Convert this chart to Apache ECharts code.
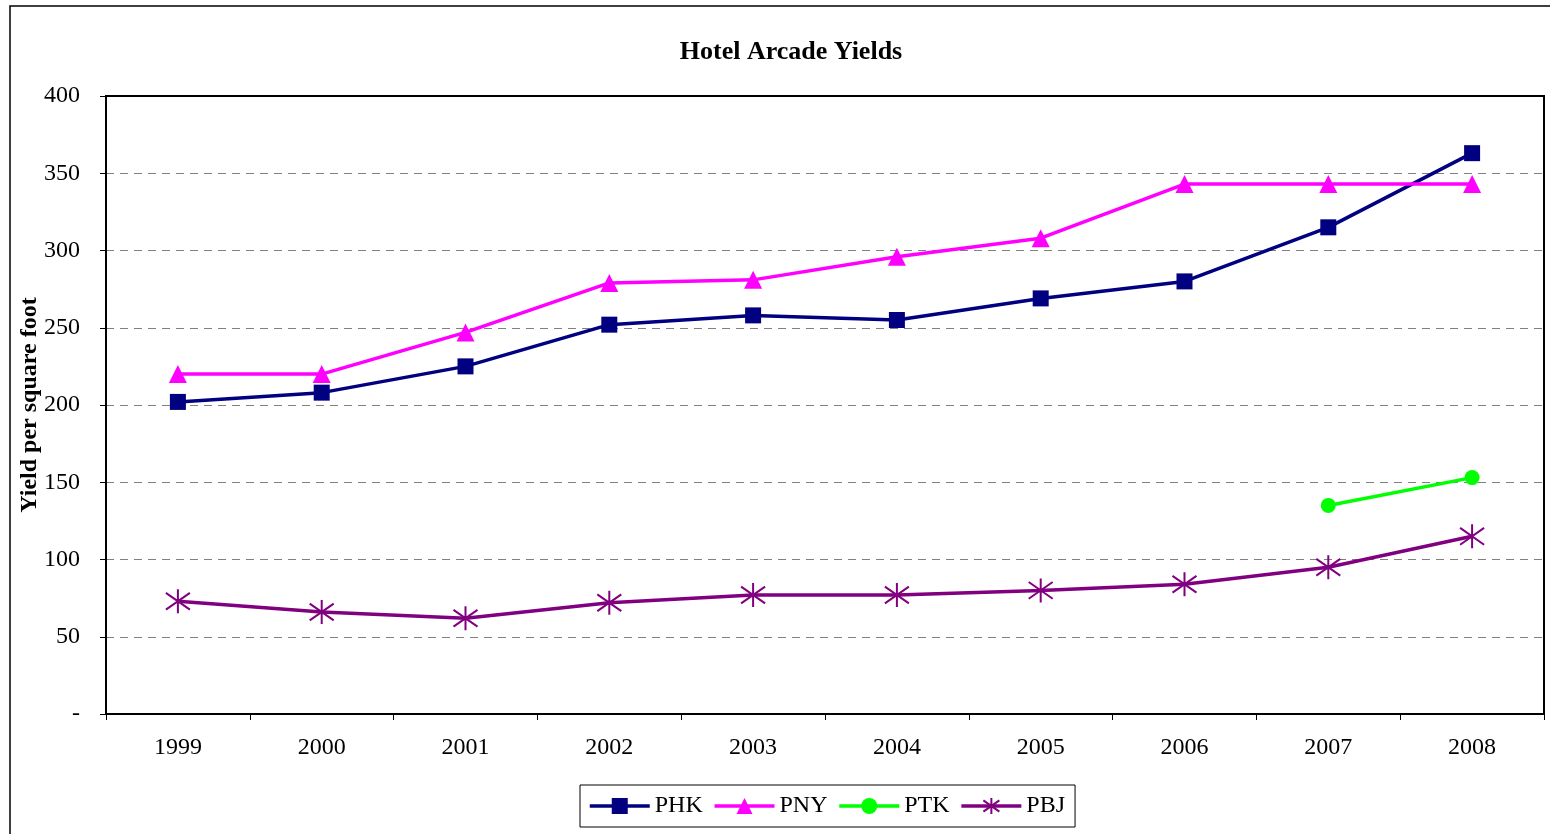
<!DOCTYPE html>
<html>
<head>
<meta charset="utf-8">
<script src="https://cdn.jsdelivr.net/npm/echarts@6/dist/echarts.min.js"></script>
<style>html,body{margin:0;padding:0;background:#fff;}#c{width:1550px;height:834px;}</style>
</head>
<body>
<div id="c"></div>
<script>
const years = ['1999','2000','2001','2002','2003','2004','2005','2006','2007','2008'];
const PHK = [202, 208, 225, 252, 258, 255, 269, 280, 315, 363];
const PNY = [220, 220, 247, 279, 281, 296, 308, 343, 343, 343];
const PTK = [null, null, null, null, null, null, null, null, 135, 153];
const PBJ = [73, 66, 62, 72, 77, 77, 80, 84, 95, 115];

const serif = '"Liberation Serif", "Times New Roman", serif';
const asterisk = 'path://M0,-10L0,10M-10,-7L10,7M-10,7L10,-7';

const chart = echarts.init(document.getElementById('c'));
chart.setOption({
  animation: false,
  backgroundColor: '#fff',
  title: {
    text: 'Hotel Arcade Yields',
    left: 786, top: 34, textAlign: 'center',
    textStyle: { fontFamily: serif, fontSize: 26, fontWeight: 'bold', color: '#000' }
  },
  grid: { left: 106, top: 96, right: 6, bottom: 120 },
  legend: {
    left: 580, top: 785,
    itemWidth: 60, itemHeight: 20, itemGap: 10,
    padding: [9, 10, 9, 8],
    borderColor: '#000', borderWidth: 1,
    lineStyle: { width: 3.5 },
    textStyle: { fontFamily: serif, fontSize: 24, color: '#000' },
    data: ['PHK', 'PNY', 'PTK', 'PBJ']
  },
  xAxis: {
    type: 'category', data: years, boundaryGap: true,
    axisLine: { lineStyle: { color: '#000', width: 2 } },
    axisTick: { show: true, length: 6, lineStyle: { color: '#000' } },
    axisLabel: { fontFamily: serif, fontSize: 24, color: '#000', margin: 22 },
    splitLine: { show: false }
  },
  yAxis: {
    type: 'value', min: 0, max: 400, interval: 50,
    name: 'Yield per square foot', nameLocation: 'middle', nameRotate: 90, nameGap: 64,
    nameMoveOverlap: false,
    nameTextStyle: { fontFamily: serif, fontSize: 24, fontWeight: 'bold', color: '#000' },
    axisLine: { show: true, lineStyle: { color: '#000', width: 2 } },
    axisTick: { show: true, length: 6, lineStyle: { color: '#000' } },
    axisLabel: { fontFamily: serif, fontSize: 24, color: '#000', margin: 26,
      formatter: v => v === 0 ? '-' : String(v) },
    splitLine: { show: true, lineStyle: { color: '#808080', type: [8, 6], width: 1 } }
  },
  graphic: [
    { type: 'rect', shape: { x: 10, y: 6, width: 1560, height: 840 }, style: { fill: 'none', stroke: '#000', lineWidth: 1.5 }, z: 0, silent: true },
    { type: 'rect', shape: { x: 106, y: 96, width: 1438, height: 618 }, style: { fill: 'none', stroke: '#000', lineWidth: 2 }, z: 100, silent: true }
  ],
  series: [
    { name: 'PHK', type: 'line', data: PHK, symbol: 'rect', symbolSize: 16,
      lineStyle: { color: '#000080', width: 3.5 }, itemStyle: { color: '#000080' } },
    { name: 'PNY', type: 'line', data: PNY, symbol: 'triangle', symbolSize: 18,
      lineStyle: { color: '#FF00FF', width: 3.5 }, itemStyle: { color: '#FF00FF' } },
    { name: 'PTK', type: 'line', data: PTK, symbol: 'circle', symbolSize: 15,
      lineStyle: { color: '#00FF00', width: 3.5 }, itemStyle: { color: '#00FF00' } },
    { name: 'PBJ', type: 'line', data: PBJ, symbol: asterisk, symbolSize: 24,
      lineStyle: { color: '#800080', width: 3.5 },
      itemStyle: { color: '#800080', borderColor: '#800080', borderWidth: 2 } }
  ]
});
</script>
</body>
</html>
